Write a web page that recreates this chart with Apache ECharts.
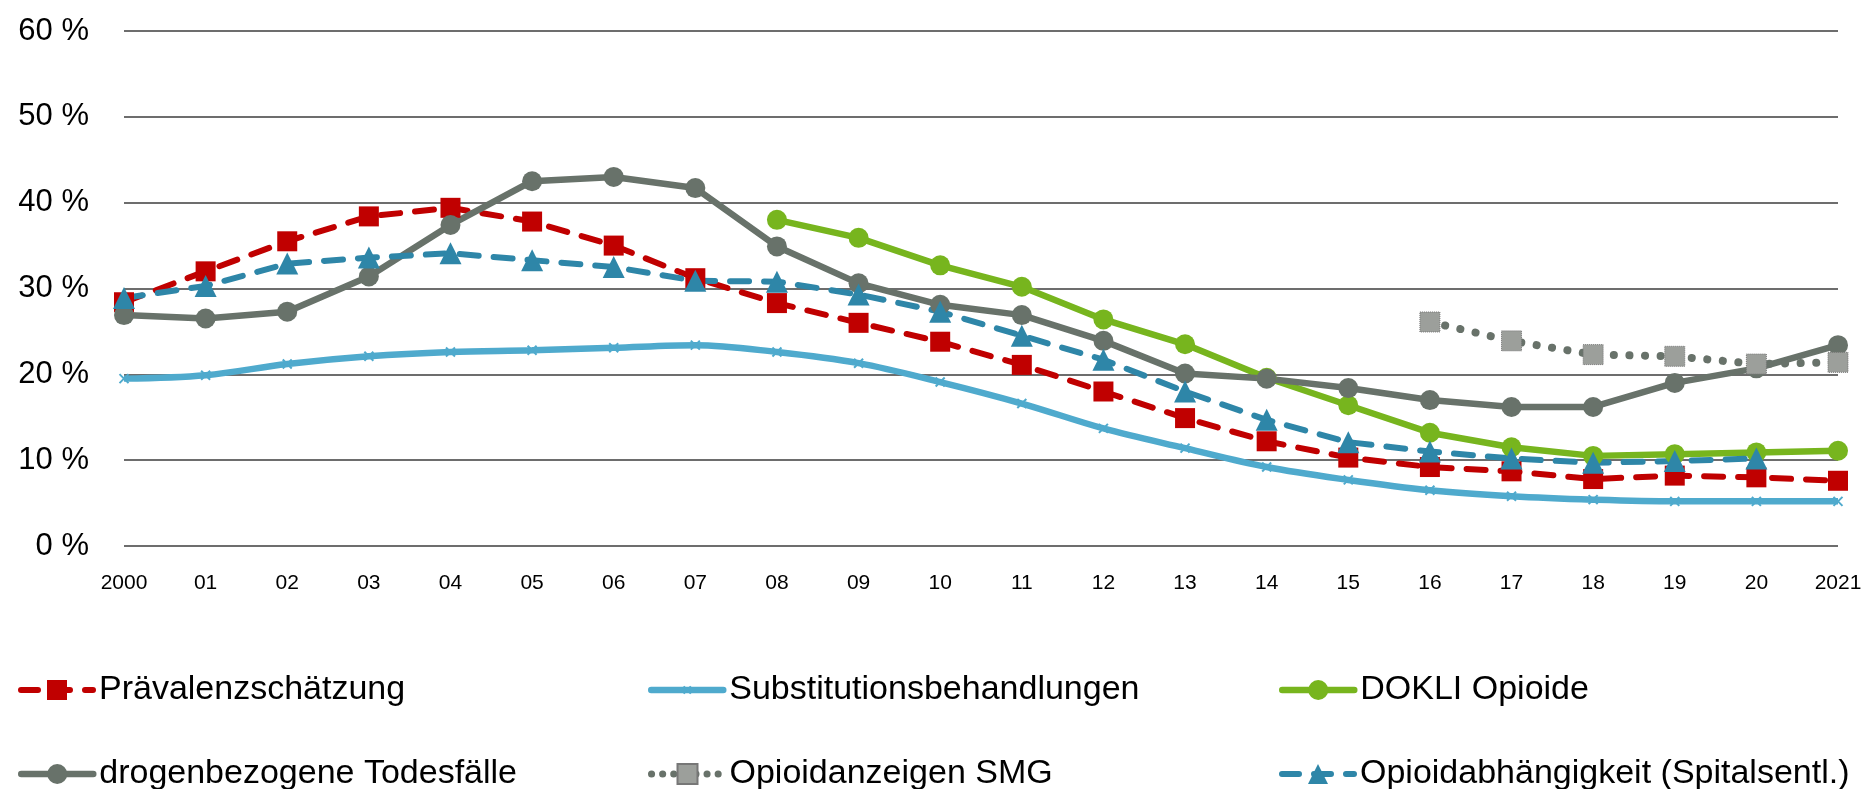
<!DOCTYPE html>
<html>
<head>
<meta charset="utf-8">
<script src="https://cdn.jsdelivr.net/npm/echarts@6/dist/echarts.min.js"></script>
<style>
html,body{margin:0;padding:0;background:#fff;}
#c{width:1865px;height:789px;}
</style>
</head>
<body>
<div id="c"></div>
<script>
const years = ['2000','01','02','03','04','05','06','07','08','09','10','11','12','13','14','15','16','17','18','19','20','2021'];
const yTicks = [0, 10, 20, 30, 40, 50, 60];
const praevalenz = [28.4, 32.0, 35.5, 38.4, 39.4, 37.8, 35.0, 31.2, 28.3, 26.0, 23.8, 21.1, 18.0, 14.9, 12.2, 10.3, 9.2, 8.7, 7.8, 8.2, 8.0, 7.6];
const substitution = [19.5, 19.9, 21.2, 22.1, 22.6, 22.8, 23.1, 23.4, 22.6, 21.3, 19.1, 16.6, 13.7, 11.4, 9.2, 7.7, 6.5, 5.8, 5.4, 5.2, 5.2, 5.2];
const dokli = [null, null, null, null, null, null, null, null, 38.0, 35.9, 32.7, 30.2, 26.4, 23.5, 19.6, 16.4, 13.2, 11.5, 10.5, 10.7, 10.9, 11.1];
const todesfaelle = [26.9, 26.5, 27.3, 31.4, 37.4, 42.5, 43.0, 41.7, 34.9, 30.6, 28.1, 26.9, 23.9, 20.1, 19.5, 18.4, 17.0, 16.2, 16.2, 19.0, 20.7, 23.4];
const smg = [null, null, null, null, null, null, null, null, null, null, null, null, null, null, null, null, 26.1, 23.9, 22.3, 22.1, 21.2, 21.4];
const spital = [28.9, 30.3, 32.9, 33.6, 34.1, 33.3, 32.5, 30.9, 30.8, 29.3, 27.3, 24.5, 21.7, 18.0, 14.7, 12.1, 11.0, 10.2, 9.7, 9.9, 10.2, null];
const names = ['Prävalenzschätzung', 'Substitutionsbehandlungen', 'DOKLI Opioide', 'drogenbezogene Todesfälle', 'Opioidanzeigen SMG', 'Opioidabhängigkeit (Spitalsentl.)'];

const FONT = 'Liberation Sans';
const chart = echarts.init(document.getElementById('c'), null, {renderer: 'canvas'});

const legendPos = [
  {left: 18, top: 673}, {left: 648, top: 673}, {left: 1279, top: 673},
  {left: 18, top: 757}, {left: 648, top: 757}, {left: 1279, top: 757}
];
const legendLines = [
  {width: 6, type: [17, 15], cap: 'round'},
  {width: 6.5, type: 'solid', cap: 'round'},
  {width: 6.5, type: 'solid', cap: 'round'},
  {width: 6.5, type: 'solid', cap: 'round'},
  {width: 7, type: [0.1, 11], cap: 'round'},
  {width: 6, type: [17, 15], cap: 'round'}
];
const legendHeights = [25, 9, 25, 25, 25, 25];
const legends = names.map((n, i) => ({
  data: [n],
  left: legendPos[i].left,
  top: legendPos[i].top,
  padding: 0,
  itemWidth: 72,
  itemHeight: legendHeights[i],
  selectedMode: false,
  lineStyle: legendLines[i],
  textStyle: {fontFamily: FONT, fontSize: 34, color: '#000', padding: [0, 0, 0, 1]}
}));

const xPath = 'path://M0,0 L10,10 M10,0 L0,10';

chart.setOption({
  backgroundColor: '#fff',
  animation: false,
  legend: legends,
  grid: {left: 124, right: 27, top: 31, bottom: 243, outerBoundsMode: 'none'},
  xAxis: {
    type: 'category',
    data: years,
    boundaryGap: false,
    axisLine: {show: false},
    axisTick: {show: false},
    axisLabel: {fontFamily: FONT, fontSize: 21, color: '#000', margin: 27, interval: 0}
  },
  yAxis: {
    type: 'value',
    min: yTicks[0],
    max: yTicks[yTicks.length - 1],
    interval: 10,
    axisLine: {show: false},
    axisTick: {show: false},
    axisLabel: {fontFamily: FONT, fontSize: 31, color: '#000', margin: 35, formatter: '{value} %'},
    splitLine: {lineStyle: {color: '#3c3c3c', width: 1.6}}
  },
  series: [
    {
      name: names[0], type: 'line', data: praevalenz,
      symbol: 'rect', symbolSize: 20,
      lineStyle: {color: '#C00000', width: 6, type: [19, 15], cap: 'round'},
      itemStyle: {color: '#C00000'}
    },
    {
      name: names[1], type: 'line', data: substitution, smooth: 0.35,
      symbol: xPath, symbolSize: 9,
      lineStyle: {color: '#4FAACD', width: 6.5},
      itemStyle: {color: '#4FAACD', borderColor: '#4FAACD', borderWidth: 2}
    },
    {
      name: names[2], type: 'line', data: dokli,
      symbol: 'circle', symbolSize: 20,
      lineStyle: {color: '#77B51E', width: 6.5},
      itemStyle: {color: '#77B51E'}
    },
    {
      name: names[3], type: 'line', data: todesfaelle,
      symbol: 'circle', symbolSize: 20,
      lineStyle: {color: '#68726A', width: 6.5},
      itemStyle: {color: '#68726A'}
    },
    {
      name: names[4], type: 'line', data: smg,
      symbol: 'rect', symbolSize: 20,
      lineStyle: {color: '#68726A', width: 8, type: [0.1, 15.5], cap: 'round'},
      itemStyle: {color: '#9C9F9B', borderColor: '#777', borderWidth: 1, borderType: 'dotted'}
    },
    {
      name: names[5], type: 'line', data: spital,
      symbol: 'triangle', symbolSize: 22,
      lineStyle: {color: '#2E86A8', width: 6, type: [19, 15], cap: 'round'},
      itemStyle: {color: '#2E86A8'}
    }
  ]
});
</script>
</body>
</html>
